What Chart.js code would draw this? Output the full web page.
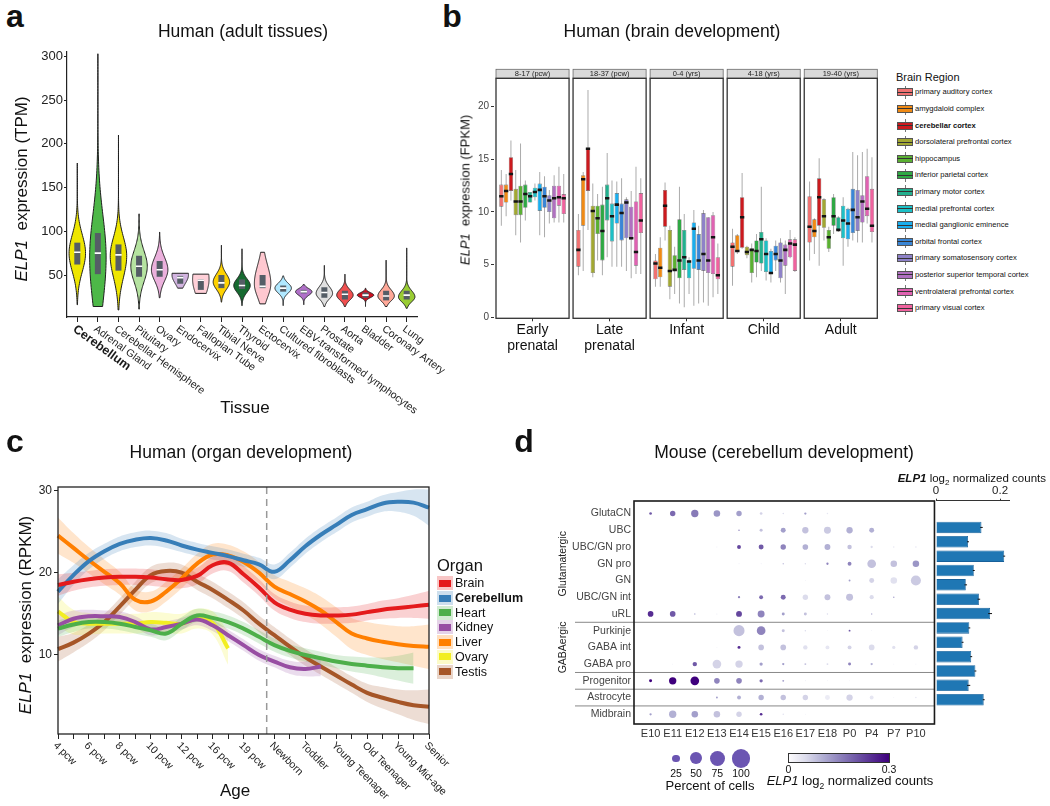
<!DOCTYPE html>
<html>
<head>
<meta charset="utf-8">
<title>ELP1 expression</title>
<script src="https://cdn.jsdelivr.net/npm/chart.js@4.4.1/dist/chart.umd.min.js"></script>
<style>
  body { margin: 0; background: #fff; }
  #page { position: relative; width: 1050px; height: 806px; overflow: hidden; background: #fff;
          font-family: 'Liberation Sans', Arial, Helvetica, sans-serif; color: #111; }
  #page canvas { position: absolute; }
  .t { position: absolute; white-space: nowrap; line-height: 1; transform: translate(-50%, -50%); }
  .rot { transform: translate(-50%, -50%) rotate(-90deg); }
  .let { font-size: 32px; font-weight: bold; }
  .ttl { font-size: 17.5px; }
  .sw { position: absolute; box-sizing: border-box; }
</style>
</head>
<body>
<div id="page">
  <canvas id="chartA" width="460" height="380" style="left:0;top:40px"></canvas>
  <canvas id="chartB" width="450" height="330" style="left:440px;top:40px"></canvas>
  <canvas id="chartC" width="470" height="366" style="left:0;top:440px"></canvas>
  <canvas id="chartD" width="420" height="366" style="left:520px;top:440px"></canvas>
  <canvas id="chartE" width="130" height="366" style="left:920px;top:440px"></canvas>
</div>
<script>
// ---------- a: human adult tissues (TPM)
const tissues = ['Cerebellum', 'Adrenal Gland', 'Cerebellar Hemisphere', 'Pituitary', 'Ovary', 'Endocervix',
  'Fallopian Tube', 'Tibial Nerve', 'Thyroid', 'Ectocervix', 'Cultured fibroblasts',
  'EBV-transformed lymphocytes', 'Prostate', 'Aorta', 'Bladder', 'Coronary Artery', 'Lung'];
const tissueColors = ['#EEE600', '#4DB848', '#EEE600', '#B5E3A0', '#EBB0DC', '#D2B4E0', '#FFD0D8', '#FFD200',
  '#166A30', '#FFC8D0', '#B0E8FF', '#B070C8', '#E0E0E0', '#F05050', '#CC1020', '#FFA898', '#99CC33'];
// violin outline: data range, densest value and spread below / above it
const violinMin  = [16, 14, 10, 11, 24, 35, 29, 19, 15, 17, 15, 16, 14, 14, 14, 14, 12];
const violinMax  = [178, 303, 210, 120, 99, 52, 51, 84, 80, 76, 49, 39, 61, 51, 35, 67, 81];
const violinMode = [75, 70, 72, 60, 56, 50, 45, 42, 38, 40, 35, 31, 29, 27, 27, 26, 25];
const spreadLow  = [30, 75, 35, 25, 18, 14, 25, 12, 11, 22, 8, 6, 9, 8, 4, 8, 8];
const spreadHigh = [30, 69, 30, 25, 20, 30, 30, 13, 11, 30, 8, 5, 11, 9, 4, 10, 10];
const boxQ1  = [62, 51, 55, 48, 48, 40, 33, 35, 34, 35, 31, 29, 24, 22, 24, 21, 22];
const boxMed = [76, 75, 73, 60, 56, 47, 44, 41, 38, 37, 35, 31, 30, 28, 27, 26, 27];
const boxQ3  = [87, 98, 85, 72, 66, 49, 45, 50, 45, 50, 38, 33, 36, 32, 30, 32, 32];
const tpmTicks = [50, 100, 150, 200, 250, 300];

// ---------- b: human brain development (FPKM)
const devStages = [['Early', 'prenatal'], ['Late', 'prenatal'], 'Infant', 'Child', 'Adult'];
const stageAges = ['8-17 (pcw)', '18-37 (pcw)', '0-4 (yrs)', '4-18 (yrs)', '19-40 (yrs)'];
const brainRegions = ['primary auditory cortex', 'amygdaloid complex', 'cerebellar cortex',
  'dorsolateral prefrontal cortex', 'hippocampus', 'inferior parietal cortex', 'primary motor cortex',
  'medial prefrontal cortex', 'medial ganglionic eminence', 'orbital frontal cortex',
  'primary somatosensory cortex', 'posterior superior temporal cortex', 'ventrolateral prefrontal cortex',
  'primary visual cortex'];
const regionColors = ['#F07272', '#F08A14', '#CC1A1E', '#A2A832', '#5AB032', '#2FA844', '#22B08E', '#1CC0C6',
  '#1AAEEE', '#3A86D6', '#8E82C8', '#B070C0', '#E062B2', '#F0629E'];
// rows = regions, columns = stages
const whiskerLow = [[8.7, 4.0, 2.9, 3.0, 5.4], [9.6, 4.4, 2.9, 6.0, 6.0], [11.1, 8.3, 7.3, 6.5, 4.9],
  [7.8, 3.8, 1.7, 5.6, 7.3], [7.1, 5.4, 2.2, 3.3, 6.2], [9.2, 4.0, 1.3, 3.8, 7.9], [10.9, 5.7, 0.95, 4.4, 8.1],
  [11.1, 4.8, 2.2, 3.5, 4.9], [7.8, 4.8, 1.1, 3.3, 6.7], [7.6, 4.8, 1.3, 4.4, 7.3], [8.9, 4.4, 1.4, 3.3, 7.1],
  [9.0, 3.7, 1.1, 2.2, 7.1], [9.0, 4.1, 1.9, 5.6, 8.9], [9.0, 4.1, 2.2, 4.3, 7.1]];
const quartLow = [[10.5, 4.8, 3.6, 4.8, 7.1], [10.9, 8.7, 3.8, 6.2, 7.6], [12.0, 12.0, 8.6, 6.6, 8.7],
  [9.7, 4.2, 2.9, 5.9, 8.5], [9.7, 7.9, 4.4, 4.2, 6.5], [10.4, 5.4, 3.7, 5.2, 8.7], [10.9, 9.2, 4.5, 5.1, 8.3],
  [11.4, 7.2, 3.7, 4.3, 7.5], [10.1, 8.9, 4.6, 4.1, 7.4], [10.4, 7.3, 4.5, 5.4, 8.0], [10.0, 7.5, 4.4, 3.7, 8.2],
  [9.4, 7.4, 4.2, 4.9, 9.0], [10.6, 4.9, 4.1, 5.7, 9.6], [9.8, 8.0, 3.6, 4.4, 8.1]];
const medians = [[11.5, 6.4, 5.1, 6.7, 8.6], [12.0, 13.1, 4.7, 6.3, 8.2], [13.6, 16.0, 10.6, 9.5, 11.4],
  [11.0, 10.1, 4.4, 6.2, 9.6], [11.0, 9.4, 4.5, 6.4, 7.6], [11.7, 8.2, 5.4, 6.3, 9.6], [11.5, 11.3, 5.7, 7.4, 8.3],
  [11.9, 9.6, 5.3, 6.0, 9.2], [12.1, 10.7, 8.4, 4.2, 8.9], [11.5, 9.9, 5.4, 6.0, 10.2], [11.1, 10.9, 6.0, 5.4, 9.5],
  [11.3, 7.5, 5.4, 6.4, 11.0], [11.4, 6.2, 7.6, 7.0, 10.3], [11.3, 9.2, 4.0, 6.9, 8.7]];
const quartHigh = [[12.6, 8.3, 5.4, 7.1, 11.5], [12.6, 13.5, 6.6, 7.8, 9.3], [15.2, 16.1, 12.1, 11.4, 13.2],
  [12.2, 10.6, 8.3, 6.7, 11.2], [12.5, 10.6, 5.9, 6.5, 8.3], [12.6, 10.7, 9.3, 7.3, 11.4], [11.9, 12.6, 8.3, 8.1, 9.5],
  [12.3, 10.8, 5.4, 7.3, 10.6], [12.7, 11.8, 9.0, 6.3, 10.3], [12.4, 10.8, 7.9, 6.8, 12.2], [11.6, 11.2, 9.9, 7.1, 12.1],
  [12.5, 10.5, 9.5, 6.9, 11.6], [12.5, 11.0, 9.7, 7.4, 13.4], [11.7, 11.8, 5.7, 7.4, 12.2]];
const whiskerHigh = [[14.0, 9.8, 6.0, 8.4, 12.9], [13.6, 13.8, 7.6, 7.9, 9.4], [16.8, 21.6, 12.8, 13.7, 15.1],
  [14.0, 12.7, 8.7, 6.8, 11.3], [16.5, 11.7, 6.7, 7.0, 8.6], [13.0, 12.4, 12.4, 7.9, 11.7], [11.9, 15.6, 9.8, 12.4, 9.6],
  [12.7, 13.0, 5.7, 7.5, 11.4], [13.8, 12.9, 10.2, 6.5, 10.4], [13.4, 13.2, 8.7, 7.3, 15.7], [12.1, 11.4, 10.2, 7.5, 15.4],
  [13.5, 12.0, 9.5, 7.3, 15.7], [14.3, 14.3, 10.0, 8.3, 16.0], [13.6, 13.2, 7.0, 7.6, 15.2]];
const fpkmTicks = [0, 5, 10, 15, 20];

// ---------- c: human organ development (RPKM)
const ageLabels = ['4 pcw', '5 pcw', '6 pcw', '7 pcw', '8 pcw', '9 pcw', '10 pcw', '11 pcw', '12 pcw', '13 pcw',
  '16 pcw', '18 pcw', '19 pcw', '20 pcw', 'Newborn', 'Infant', 'Toddler', 'School', 'Young Teenager', 'Teenager',
  'Old Teenager', 'Young Adult', 'Young Mid-age', 'Older Mid-age', 'Senior'];
const organs = ['Brain', 'Cerebellum', 'Heart', 'Kidney', 'Liver', 'Ovary', 'Testis'];
const organColors = ['#E41A1C', '#377EB8', '#4DAF4A', '#984EA3', '#FF7F00', '#F2EE22', '#A65628'];
const brainRpkm = [18.5, 18.9, 19.2, 19.4, 19.5, 19.5, 19.4, 19.2, 19.1, 19.6, 20.9, 21.2, 19.8, 18.2, 16.4, 15.5,
  15.0, 14.8, 14.8, 14.9, 15.2, 15.5, 15.7, 15.9, 16.1];
const cerebellumRpkm = [17.7, 19.7, 21.4, 22.6, 23.5, 24.0, 24.2, 23.9, 23.3, 22.8, 22.4, 22.0, 21.5, 21.0, 20.1,
  21.5, 23.2, 24.6, 25.8, 27.0, 27.7, 28.4, 28.6, 28.5, 27.9];
const heartRpkm = [13.2, 13.7, 14.0, 14.0, 13.8, 13.4, 13.0, 12.6, 13.8, 14.8, 14.5, 14.0, 13.2, 12.2, 11.2, 10.5,
  10.0, 9.6, 9.2, 8.9, 8.7, 8.5, 8.4, 8.4, null];
const kidneyRpkm = [13.6, 14.4, 14.7, 14.7, 14.6, 14.0, 13.1, 13.4, 13.8, 14.3, 13.6, 12.4, 11.2, 10.0, 9.2, 8.5,
  8.3, 8.6, null, null, null, null, null, null, null];
const liverRpkm = [24.5, 23.0, 21.5, 20.1, 18.7, 16.7, 16.5, 17.7, 19.3, 21.1, 22.2, 22.1, 21.3, 20.0, 18.3, 17.4,
  16.5, 15.4, 14.0, 12.6, 12.0, 11.6, 11.3, 11.1, 11.0];
const ovaryRpkm = [15.3, 14.0, 13.8, 13.8, 13.8, 13.8, 14.0, 13.9, 13.8, 14.4, 13.9, 10.8, null, null, null, null,
  null, null, null, null, null, null, null, null, null];
const testisRpkm = [10.7, 11.5, 12.6, 14.0, 15.9, 17.9, 19.7, 20.2, 20.0, 18.9, 17.9, 16.7, 15.4, 13.8, 12.4, 11.0,
  9.7, 8.6, 7.5, 6.4, 5.4, 4.8, 4.3, 3.9, 3.7];
// half width of the confidence band
const brainBand = [1.3, 1.1, 1.0, 1.0, 1.0, 1.0, 1.0, 1.0, 1.0, 1.0, 1.0, 1.0, 1.0, 1.0, 1.0, 1.0, 1.0, 1.0, 1.0,
  1.0, 1.0, 1.1, 1.2, 1.4, 1.7];
const cerebellumBand = [1.5, 1.2, 1.0, 0.9, 0.9, 0.9, 0.9, 0.9, 0.8, 0.8, 0.8, 0.8, 0.8, 0.8, 0.9, 0.9, 0.9, 0.9,
  0.9, 0.9, 0.9, 1.0, 1.2, 1.6, 2.2];
const heartBand = [1.0, 0.9, 0.8, 0.8, 0.8, 0.8, 0.8, 0.8, 0.8, 0.8, 0.8, 0.8, 0.8, 0.8, 0.8, 0.8, 0.8, 0.8, 0.8,
  0.9, 1.0, 1.2, 1.5, 1.9, null];
const kidneyBand = [1.2, 1.0, 0.8, 0.7, 0.7, 0.7, 0.7, 0.7, 0.7, 0.7, 0.7, 0.7, 0.7, 0.7, 0.7, 0.8, 0.9, 1.2, null,
  null, null, null, null, null, null];
const liverBand = [2.2, 1.8, 1.6, 1.5, 1.4, 1.3, 1.2, 1.2, 1.2, 1.2, 1.3, 1.3, 1.3, 1.3, 1.4, 1.5, 1.6, 1.7, 1.8,
  1.9, 2.0, 2.1, 2.2, 2.4, 2.7];
const ovaryBand = [1.8, 1.5, 1.3, 1.2, 1.2, 1.2, 1.2, 1.2, 1.2, 1.2, 1.4, 2.0, null, null, null, null, null, null,
  null, null, null, null, null, null, null];
const testisBand = [1.5, 1.2, 1.1, 1.0, 1.0, 1.0, 1.0, 1.0, 1.0, 1.0, 1.0, 1.0, 1.0, 1.0, 1.0, 1.0, 1.0, 1.0, 1.0,
  1.0, 1.1, 1.3, 1.5, 1.8, 2.1];
const rpkmTicks = [10, 20, 30];

// ---------- d: mouse cerebellum development
const mouseStages = ['E10', 'E11', 'E12', 'E13', 'E14', 'E15', 'E16', 'E17', 'E18', 'P0', 'P4', 'P7', 'P10'];
const cellTypes = ['GlutaCN', 'UBC', 'UBC/GN pro', 'GN pro', 'GN', 'UBC/GN int', 'uRL', 'Purkinje', 'GABA int',
  'GABA pro', 'Progenitor', 'Astrocyte', 'Midbrain'];
const cellGroups = ['Glutamatergic', 'GABAergic'];
const dotPercent = [
  [5, 15, 24, 20, 15, 5, 2, 4, 2, null, null, null, null],
  [null, null, null, null, 2, 6, 13, 19, 22, 19, 13, null, null],
  [null, null, null, 1, 9, 13, 15, 16, 17, 11, 4, 2, 2],
  [null, null, null, null, 1, 1, 2, 2, 4, 9, 31, 20, 20],
  [null, null, null, null, null, null, null, 1, null, 3, 13, 20, 39],
  [null, null, null, null, 4, 9, 13, 15, 17, 22, 10, 2, null],
  [16, 16, 2, 1, 17, 22, 6, 6, 2, null, 2, null, null],
  [null, null, null, null, 45, 31, 6, 2, 1, 3, 1, null, null],
  [null, null, null, 1, 6, 16, 16, 11, 9, 9, 16, 7, 11],
  [null, 1, 11, 31, 24, 7, 4, 3, 3, 6, 4, 1, 1],
  [6, 24, 31, 16, 16, 7, 3, 1, 1, 1, null, null, null],
  [null, null, null, 3, 9, 15, 15, 15, 13, 19, 9, 1, 2],
  [4, 24, 20, 20, 15, 5, 2, 1, null, null, null, null, null]];
const dotLevel = [
  [0.20, 0.18, 0.16, 0.13, 0.12, 0.06, 0.05, 0.12, 0.03, 0, 0, 0, 0],
  [0, 0, 0, 0, 0.15, 0.08, 0.12, 0.08, 0.07, 0.10, 0.10, 0, 0],
  [0, 0, 0, 0.03, 0.22, 0.20, 0.15, 0.10, 0.10, 0.08, 0.05, 0.03, 0.03],
  [0, 0, 0, 0, 0.03, 0.03, 0.08, 0.05, 0.15, 0.15, 0.08, 0.08, 0.13],
  [0, 0, 0, 0, 0, 0, 0, 0.02, 0, 0.12, 0.06, 0.04, 0.07],
  [0, 0, 0, 0, 0.15, 0.18, 0.18, 0.05, 0.08, 0.08, 0.05, 0.12, 0],
  [0.25, 0.20, 0.10, 0.05, 0.22, 0.15, 0.12, 0.08, 0.05, 0, 0.10, 0, 0],
  [0, 0, 0, 0, 0.08, 0.15, 0.08, 0.05, 0.02, 0.20, 0.03, 0, 0],
  [0, 0, 0, 0.02, 0.25, 0.08, 0.08, 0.04, 0.03, 0.06, 0.05, 0.04, 0.06],
  [0, 0.03, 0.20, 0.06, 0.06, 0.12, 0.12, 0.08, 0.05, 0.15, 0.10, 0.03, 0.03],
  [0.30, 0.30, 0.30, 0.15, 0.15, 0.18, 0.12, 0.04, 0.02, 0.01, 0, 0, 0],
  [0, 0, 0, 0.12, 0.10, 0.10, 0.08, 0.06, 0.02, 0.06, 0.03, 0.02, 0.03],
  [0.12, 0.10, 0.12, 0.08, 0.06, 0.25, 0.04, 0.02, 0, 0, 0, 0, 0]];
const countMean = [0.142, 0.100, 0.213, 0.118, 0.093, 0.134, 0.169, 0.104, 0.083, 0.110, 0.123, 0.102, 0.149];
const countErr  = [0.004, 0.003, 0.003, 0.003, 0.004, 0.004, 0.006, 0.003, 0.003, 0.003, 0.003, 0.005, 0.003];
const sizeLegend = [25, 50, 75, 100];
const levelTicks = [0, 0.3];
const countTicks = [0, 0.2];

// ---------------------------------------------------------------------------
Chart.defaults.font.family = "'Liberation Sans', Arial, Helvetica, sans-serif";
Chart.defaults.color = '#222';
Chart.defaults.animation = false;
Chart.defaults.responsive = false;
Chart.defaults.plugins.legend.display = false;
Chart.defaults.plugins.tooltip.enabled = false;

const FONT = "'Liberation Sans', Arial, Helvetica, sans-serif";
const fitTo = size => scale => { if (scale.isHorizontal()) scale.height = size; else scale.width = size; };
const ticksAt = values => scale => { scale.ticks = values.map(v => ({ value: v })); };
const alpha = (hex, a) => {
  const n = parseInt(hex.slice(1), 16);
  return `rgba(${n >> 16},${(n >> 8) & 255},${n & 255},${a})`;
};
// Purples colour scale, 0 .. 0.3
const purpleStops = [[252, 251, 253], [218, 218, 235], [158, 154, 200], [106, 81, 163], [63, 0, 125]];
function purple(v) {
  const t = Math.pow(Math.max(0, Math.min(1, v / 0.3)), 0.8) * (purpleStops.length - 1);
  const k = Math.min(Math.floor(t), purpleStops.length - 2), f = t - k;
  const c = purpleStops[k].map((a, i) => Math.round(a + (purpleStops[k + 1][i] - a) * f));
  return `rgb(${c[0]},${c[1]},${c[2]})`;
}
const dotRadius = p => 9.3 * Math.pow(p / 100, 0.65);

// rotated category labels that run down and to the right of their tick
function slantLabels(chart, labels, opt) {
  const { ctx, chartArea, scales } = chart;
  labels.forEach((lab, i) => {
    if (opt.every && i % opt.every) return;
    ctx.save();
    ctx.translate(scales.x.getPixelForValue(i) + opt.dx, chartArea.bottom + opt.dy);
    ctx.rotate(opt.angle * Math.PI / 180);
    ctx.font = opt.fontFor(i);
    ctx.fillStyle = '#1a1a1a';
    ctx.textAlign = 'left';
    ctx.textBaseline = 'middle';
    ctx.fillText(lab, 0, 0);
    ctx.restore();
  });
}

// ---------- chart a
const violinPlugin = {
  id: 'violins',
  beforeDatasetsDraw(chart) {
    const { ctx, scales: { x, y } } = chart;
    const half = (x.getPixelForValue(1) - x.getPixelForValue(0)) * 0.4;
    tissues.forEach((t, i) => {
      const cx = x.getPixelForValue(i), pts = [];
      for (let k = 0; k <= 80; k++) {
        const v = violinMin[i] + (violinMax[i] - violinMin[i]) * k / 80;
        const s = v < violinMode[i] ? spreadLow[i] : spreadHigh[i];
        pts.push([y.getPixelForValue(v), half * Math.exp(-Math.pow((v - violinMode[i]) / s, 2))]);
      }
      ctx.save();
      ctx.beginPath();
      pts.forEach(([py, w], k) => k ? ctx.lineTo(cx + w, py) : ctx.moveTo(cx + w, py));
      for (let k = pts.length - 1; k >= 0; k--) ctx.lineTo(cx - pts[k][1], pts[k][0]);
      ctx.closePath();
      ctx.fillStyle = tissueColors[i];
      ctx.fill();
      ctx.strokeStyle = '#1e1e1e';
      ctx.lineWidth = 1;
      ctx.stroke();
      ctx.restore();
    });
  },
  afterDraw(chart) {
    slantLabels(chart, tissues, {
      angle: 36, dx: -3, dy: 11,
      fontFor: i => i === 0 ? `bold 12.5px ${FONT}` : `10.6px ${FONT}`
    });
  }
};

new Chart(document.getElementById('chartA'), {
  type: 'bar',
  data: {
    labels: tissues,
    datasets: [
      { type: 'line', data: boxMed, showLine: false, pointStyle: 'line', pointRadius: 3.2,
        pointBorderColor: '#fff', pointBorderWidth: 1.6, order: 0 },
      { data: tissues.map((t, i) => [boxQ1[i], boxQ3[i]]), backgroundColor: '#555D66',
        maxBarThickness: 6, order: 1 }
    ]
  },
  options: {
    devicePixelRatio: 1,
    layout: { padding: { left: 0, right: 43, top: 12, bottom: 93 } },
    scales: {
      x: { offset: true, ticks: { display: false }, afterFit: fitTo(10),
           grid: { drawOnChartArea: false, offset: false, tickLength: 5, color: '#222' },
           border: { color: '#222', width: 1.2 } },
      y: { min: 2, max: 305, afterBuildTicks: ticksAt(tpmTicks), afterFit: fitTo(67),
           ticks: { font: { size: 13 }, color: '#222', padding: 1 },
           grid: { drawOnChartArea: false, tickLength: 3, color: '#222' },
           border: { color: '#222', width: 1.2 } }
    }
  },
  plugins: [violinPlugin]
});

// ---------- chart b
const facetPlugin = {
  id: 'facets',
  afterDatasetsDraw(chart) {
    const { ctx, chartArea: { top, bottom }, scales: { x } } = chart;
    const half = (x.getPixelForValue(1) - x.getPixelForValue(0)) / 2 - 2;
    ctx.save();
    stageAges.forEach((s, j) => {
      const cx = x.getPixelForValue(j);
      ctx.fillStyle = '#D9D9D9';
      ctx.fillRect(cx - half, top - 9, 2 * half, 9);
      ctx.strokeStyle = '#6a6a6a';
      ctx.lineWidth = 0.8;
      ctx.strokeRect(cx - half, top - 9, 2 * half, 9);
      ctx.fillStyle = '#222';
      ctx.font = `7.5px ${FONT}`;
      ctx.textAlign = 'center';
      ctx.textBaseline = 'middle';
      ctx.fillText(s, cx, top - 4.3);
      ctx.strokeStyle = '#333';
      ctx.lineWidth = 1.3;
      ctx.strokeRect(cx - half, top, 2 * half, bottom - top);
    });
    ctx.restore();
  }
};

const bDatasets = [];
brainRegions.forEach((r, k) => {
  const common = { stack: r, categoryPercentage: 0.872, barPercentage: 0.9, borderSkipped: false };
  bDatasets.push({ ...common, data: devStages.map((s, j) => [whiskerLow[k][j], whiskerHigh[k][j]]),
    backgroundColor: '#ABABAB', maxBarThickness: 1, order: 3 });
  bDatasets.push({ ...common, data: devStages.map((s, j) => [quartLow[k][j], quartHigh[k][j]]),
    backgroundColor: regionColors[k], borderColor: 'rgba(50,50,50,0.7)', borderWidth: 0.6, order: 2 });
  bDatasets.push({ ...common, data: devStages.map((s, j) => [medians[k][j] - 0.12, medians[k][j] + 0.12]),
    backgroundColor: '#141414', order: 1 });
});

new Chart(document.getElementById('chartB'), {
  type: 'bar',
  data: { labels: devStages, datasets: bDatasets },
  options: {
    devicePixelRatio: 1,
    layout: { padding: { left: 0, right: 10.7, top: 38.3, bottom: 11.7 } },
    scales: {
      x: { offset: true, afterFit: fitTo(40),
           ticks: { font: { size: 14 }, color: '#111', padding: 0 },
           grid: { drawOnChartArea: false, offset: false, tickLength: 3, color: '#333' },
           border: { display: false } },
      y: { min: -0.1, max: 22.7, stacked: false, afterBuildTicks: ticksAt(fpkmTicks), afterFit: fitTo(54),
           ticks: { font: { size: 10 }, color: '#444', padding: 2 },
           grid: { drawOnChartArea: false, tickLength: 3, color: '#333' },
           border: { display: false } }
    }
  },
  plugins: [facetPlugin]
});

// ---------- chart c
const organSeries = [brainRpkm, cerebellumRpkm, heartRpkm, kidneyRpkm, liverRpkm, ovaryRpkm, testisRpkm];
const organBands = [brainBand, cerebellumBand, heartBand, kidneyBand, liverBand, ovaryBand, testisBand];
const cDatasets = [];
organs.forEach((o, k) => {
  const m = organSeries[k], b = organBands[k];
  const band = { borderColor: 'rgba(0,0,0,0)', borderWidth: 0, pointRadius: 0, tension: 0.4, order: 1 };
  cDatasets.push({ ...band, data: m.map((v, i) => v == null ? null : v - b[i]), fill: false });
  cDatasets.push({ ...band, data: m.map((v, i) => v == null ? null : v + b[i]), fill: '-1',
    backgroundColor: alpha(organColors[k], 0.2) });
});
organs.forEach((o, k) => cDatasets.push({ data: organSeries[k], borderColor: organColors[k], borderWidth: 4,
  pointRadius: 0, tension: 0.4, fill: false, order: 0 }));

new Chart(document.getElementById('chartC'), {
  type: 'line',
  data: { labels: ageLabels, datasets: cDatasets },
  options: {
    devicePixelRatio: 1,
    layout: { padding: { left: 0, right: 41, top: 47, bottom: 64 } },
    plugins: { filler: { drawTime: 'beforeDatasetsDraw' } },
    scales: {
      x: { offset: false, ticks: { display: false }, afterFit: fitTo(8),
           grid: { drawOnChartArea: false, offset: false, tickLength: 5, color: '#222' },
           border: { display: false } },
      y: { min: 0.4, max: 30.4, afterBuildTicks: ticksAt(rpkmTicks), afterFit: fitTo(58),
           ticks: { font: { size: 12 }, color: '#222', padding: 2 },
           grid: { drawOnChartArea: false, tickLength: 4, color: '#222' },
           border: { display: false } }
    }
  },
  plugins: [{
    id: 'frameC',
    afterDatasetsDraw(chart) {
      const { ctx, chartArea: a, scales: { x } } = chart;
      ctx.save();
      ctx.strokeStyle = '#999';
      ctx.lineWidth = 1.5;
      ctx.setLineDash([7, 5]);
      const px = x.getPixelForValue(13.5);
      ctx.beginPath(); ctx.moveTo(px, a.top); ctx.lineTo(px, a.bottom); ctx.stroke();
      ctx.setLineDash([]);
      ctx.strokeStyle = '#222';
      ctx.lineWidth = 1.3;
      ctx.strokeRect(a.left, a.top, a.right - a.left, a.bottom - a.top);
      ctx.restore();
      slantLabels(chart, ageLabels, { every: 2, angle: 45, dx: -3, dy: 10, fontFor: () => `10.5px ${FONT}` });
    }
  }]
});

// ---------- chart d (dot plot)
const dots = [];
cellTypes.forEach((c, i) => mouseStages.forEach((s, j) => {
  const p = dotPercent[i][j];
  if (p != null) dots.push({ x: j, y: i, r: dotRadius(p), v: dotLevel[i][j] });
}));

new Chart(document.getElementById('chartD'), {
  type: 'bubble',
  data: { datasets: [{ data: dots, backgroundColor: c => purple(c.raw ? c.raw.v : 0), borderWidth: 0 }] },
  options: {
    devicePixelRatio: 1,
    layout: { padding: { left: 0, right: 4, top: 61, bottom: 62 } },
    scales: {
      x: { type: 'linear', min: -0.75, max: 12.84, afterBuildTicks: ticksAt(mouseStages.map((s, j) => j)),
           afterFit: fitTo(20),
           ticks: { callback: v => mouseStages[v], font: { size: 11 }, color: '#333', padding: 3,
                    maxRotation: 0, minRotation: 0, autoSkip: false },
           grid: { display: false, drawTicks: false }, border: { display: false } },
      y: { type: 'linear', reverse: true, min: -0.75, max: 12.58,
           afterBuildTicks: ticksAt(cellTypes.map((c, i) => i)), afterFit: fitTo(114),
           ticks: { callback: v => cellTypes[v], font: { size: 10.5 }, color: '#444', padding: 3, autoSkip: false },
           grid: { display: false, drawTicks: false }, border: { display: false } }
    }
  },
  plugins: [{
    id: 'frameD',
    afterDatasetsDraw(chart) {
      const { ctx, chartArea: a, scales: { y } } = chart;
      ctx.save();
      ctx.strokeStyle = '#888';
      ctx.lineWidth = 1;
      [6.5, 9.5, 10.5, 11.5].forEach(v => {
        const py = y.getPixelForValue(v);
        ctx.beginPath(); ctx.moveTo(55, py); ctx.lineTo(a.right, py); ctx.stroke();
      });
      ctx.strokeStyle = '#1a1a1a';
      ctx.lineWidth = 1.6;
      ctx.strokeRect(a.left, a.top, a.right - a.left, a.bottom - a.top);
      ctx.fillStyle = '#222';
      ctx.font = `10.5px ${FONT}`;
      ctx.textAlign = 'center';
      ctx.textBaseline = 'middle';
      [[cellGroups[0], 3], [cellGroups[1], 8]].forEach(([g, row]) => {
        ctx.save();
        ctx.translate(43, y.getPixelForValue(row));
        ctx.rotate(-Math.PI / 2);
        ctx.fillText(g, 0, 0);
        ctx.restore();
      });
      ctx.restore();
    }
  }]
});

// ---------- chart d (mean counts per cell type)
new Chart(document.getElementById('chartE'), {
  type: 'bar',
  data: { datasets: [{ data: cellTypes.map((c, i) => ({ x: countMean[i], y: i })), backgroundColor: '#1F77B4',
    borderColor: '#17609A', borderWidth: 0.8, barPercentage: 0.8, categoryPercentage: 1 }] },
  options: {
    devicePixelRatio: 1,
    indexAxis: 'y',
    layout: { padding: { left: 16, right: 41, top: 44.7, bottom: 82 } },
    scales: {
      y: { type: 'linear', reverse: true, min: -0.75, max: 12.58, display: false },
      x: { position: 'top', min: 0, max: 0.228, afterBuildTicks: ticksAt(countTicks), afterFit: fitTo(16),
           ticks: { callback: v => String(v), font: { size: 11.5 }, color: '#222', padding: 1 },
           grid: { drawOnChartArea: false, tickLength: 2, color: '#333' },
           border: { color: '#333', width: 1 } }
    }
  },
  plugins: [{
    id: 'errorBars',
    afterDatasetsDraw(chart) {
      const { ctx, scales: { x, y } } = chart;
      ctx.save();
      ctx.strokeStyle = '#111';
      ctx.lineWidth = 1;
      countMean.forEach((m, i) => {
        const py = y.getPixelForValue(i);
        ctx.beginPath();
        ctx.moveTo(x.getPixelForValue(m - countErr[i]), py);
        ctx.lineTo(x.getPixelForValue(m + countErr[i]), py);
        ctx.stroke();
      });
      ctx.restore();
    }
  }]
});

// ---------- text, titles and legends
const page = document.getElementById('page');
function addText(html, x, y, style, cls) {
  const d = document.createElement('div');
  d.className = 't ' + (cls || '');
  d.innerHTML = html;
  d.style.left = x + 'px';
  d.style.top = y + 'px';
  if (style) d.style.cssText += style;
  page.appendChild(d);
  return d;
}
function addBox(x, y, w, h, style) {
  const d = document.createElement('div');
  d.className = 'sw';
  d.style.cssText = `left:${x}px;top:${y}px;width:${w}px;height:${h}px;` + style;
  page.appendChild(d);
  return d;
}

addText('a', 15, 16, '', 'let');
addText('b', 452, 16, '', 'let');
addText('c', 15, 441, '', 'let');
addText('d', 524, 441, '', 'let');

addText('Human (adult tissues)', 243, 31.5, '', 'ttl');
addText('Human (brain development)', 672, 31.5, '', 'ttl');
addText('Human (organ development)', 241, 453, '', 'ttl');
addText('Mouse (cerebellum development)', 784, 453, '', 'ttl');

addText('<i>ELP1</i>&nbsp; expression (TPM)', 21, 189, 'font-size:17px', 'rot');
addText('Tissue', 245, 407, 'font-size:17px');
addText('<i>ELP1</i>&nbsp; expression (FPKM)', 465, 190, 'font-size:13px', 'rot');
addText('<i>ELP1</i>&nbsp; expression (RPKM)', 25, 615, 'font-size:17px', 'rot');
addText('Age', 235, 790, 'font-size:17px');

// b legend
addText('Brain Region', 896, 77.3, 'transform:translate(0,-50%);font-size:11px');
brainRegions.forEach((r, k) => {
  const cy = 92.3 + 16.6 * k;
  addBox(904.5, cy - 6.5, 1, 13, 'background:#777');
  addBox(897, cy - 4, 16, 8, `background:${regionColors[k]};border:1px solid #555`);
  addBox(897, cy - 0.5, 16, 1, 'background:#333');
  addText(r, 915, cy, 'transform:translate(0,-50%);font-size:7.6px;' + (k === 2 ? 'font-weight:bold;' : ''));
});

// c legend
addText('Organ', 437, 565, 'transform:translate(0,-50%);font-size:16.5px');
organs.forEach((o, k) => {
  const cy = 583.3 + 14.7 * k;
  addBox(437, cy - 7, 16, 14, `background:${alpha(organColors[k], 0.25)}`);
  addBox(439, cy - 3.5, 12, 7, `background:${organColors[k]}`);
  addText(o, 455, cy, 'transform:translate(0,-50%);font-size:12.5px;' + (k === 1 ? 'font-weight:bold;' : ''));
});

// d legends
addText('<b><i>ELP1</i></b> log<sub style="font-size:8px">2</sub> normalized counts', 1046, 480,
  'transform:translate(-100%,-50%);font-size:11.5px');
const sizeX = [676, 696, 717.3, 741];
sizeLegend.forEach((p, k) => {
  const r = dotRadius(p);
  addBox(sizeX[k] - r, 758.3 - r, 2 * r, 2 * r, 'border-radius:50%;background:#6B55B2');
  addText(String(p), sizeX[k], 773, 'font-size:10.5px');
});
addText('Percent of cells', 710, 785, 'font-size:13px');
const barStops = [0, 0.05, 0.1, 0.15, 0.2, 0.25, 0.3].map(v => purple(v)).join(',');
addBox(787.7, 753.3, 102.3, 9.5, `border:1px solid #333;background:linear-gradient(to right,${barStops})`);
addText(String(levelTicks[0]), 788.5, 769, 'font-size:10.5px');
addText(String(levelTicks[1]), 889, 769, 'font-size:10.5px');
addText('<i>ELP1</i> log<sub style="font-size:8.5px">2</sub> normalized counts', 850, 782, 'font-size:13px');
</script>
</body>
</html>
